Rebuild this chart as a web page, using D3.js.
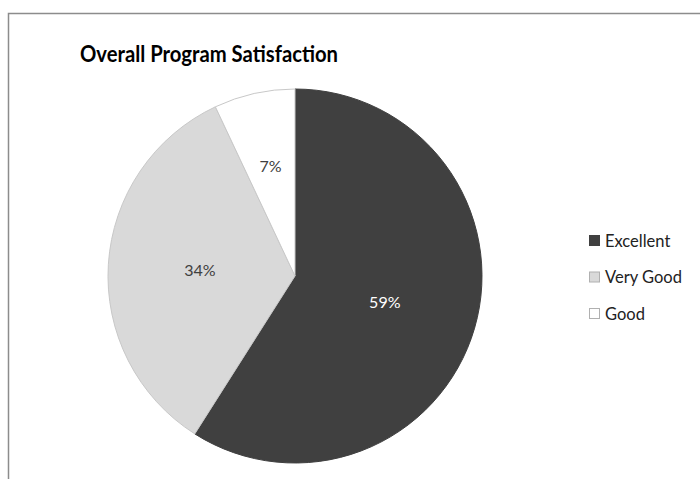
<!DOCTYPE html>
<html><head><meta charset="utf-8">
<script src="https://cdn.jsdelivr.net/npm/d3@7"></script>
<style>body{margin:0;background:#fff}svg{display:block}</style>
</head><body>
<script>
const categories = ["Excellent", "Very Good", "Good"];
const values = [59, 34, 7];
const labels = ["59%", "34%", "7%"];
const colors = ["#404040", "#d9d9d9", "#ffffff"];
const labelColors = ["#ffffff", "#404040", "#404040"];
const labelRadiusFactor = [0.5, 0.51, 0.6];

const W = 700, H = 479;
const FONT = "Lato, 'Open Sans', sans-serif";
const svg = d3.select("body").append("svg").attr("width", W).attr("height", H);
svg.append("rect").attr("x", 8.5).attr("y", 13.5).attr("width", W).attr("height", H)
  .attr("fill", "#fff").attr("stroke", "#8c8c8c").attr("stroke-width", 1.5);

svg.append("text").attr("x", 80).attr("y", 62)
  .attr("font-family", FONT).attr("font-weight", "bold")
  .attr("font-size", 23.5).attr("fill", "#000")
  .attr("textLength", 258).attr("lengthAdjust", "spacingAndGlyphs")
  .text("Overall Program Satisfaction");

const cx = 295, cy = 276, r = 187;
const data = categories.map((c, i) => ({c, v: values[i], i}));
const pie = d3.pie().value(d => d.v).sort(null);
const arc = d3.arc().innerRadius(0).outerRadius(r);
const g = svg.append("g").attr("transform", `translate(${cx},${cy})`);
const arcs = pie(data);
g.selectAll("path").data(arcs).enter().append("path")
  .attr("d", arc).attr("fill", d => colors[d.data.i])
  .attr("stroke", d => d.data.i === 0 ? "#404040" : "#c8c8c8").attr("stroke-width", 1);

g.selectAll("text.lbl").data(arcs).enter().append("text")
  .attr("class", "lbl")
  .attr("transform", d => {
    const rr = r * labelRadiusFactor[d.data.i];
    const [x, y] = d3.arc().innerRadius(rr).outerRadius(rr).centroid(d);
    return `translate(${x},${y})`;
  })
  .attr("text-anchor", "middle").attr("dy", "0.35em")
  .attr("font-family", FONT).attr("font-size", 16)
  .attr("fill", d => labelColors[d.data.i])
  .text(d => labels[d.data.i]);

const lg = svg.append("g").attr("transform", "translate(589,241)");
const rows = lg.selectAll("g").data(categories).enter().append("g")
  .attr("transform", (d, i) => `translate(0,${i * 36.5})`);
rows.append("rect").attr("x", 0.5).attr("y", -5.5).attr("width", 10).attr("height", 10)
  .attr("fill", (d, i) => colors[i]).attr("stroke", (d, i) => i === 0 ? "#404040" : "#b0b0b0");
rows.append("text").attr("x", 16).attr("y", 0).attr("dy", "0.35em")
  .attr("font-family", FONT).attr("font-size", 16.5)
  .attr("fill", "#222").text(d => d);
</script>
</body></html>
